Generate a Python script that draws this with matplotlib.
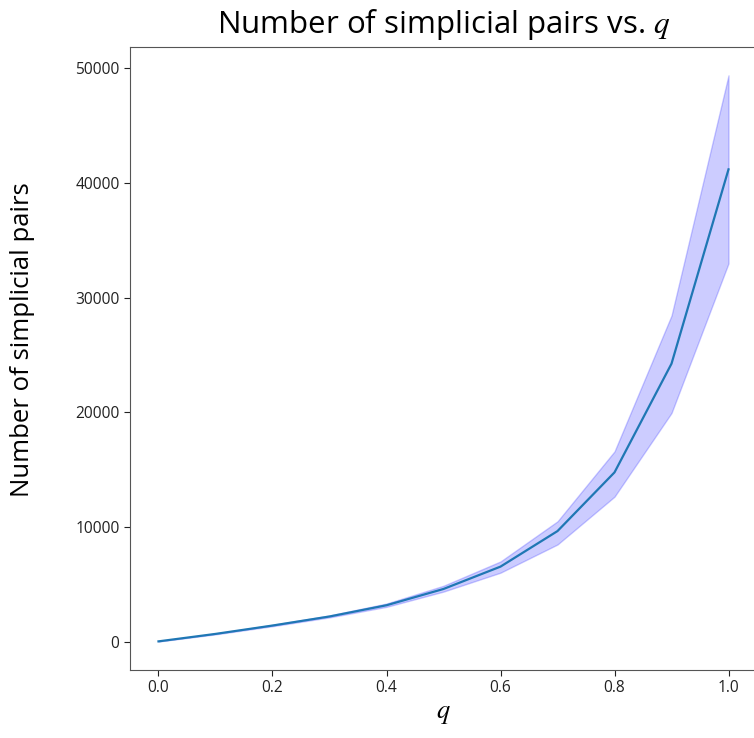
import numpy as np
import matplotlib
matplotlib.use("Agg")
import matplotlib.pyplot as plt

plt.rcParams['font.family'] = ['Open Sans', 'DejaVu Sans']
plt.rcParams['mathtext.fontset'] = 'stix'

q = [0.0, 0.1, 0.2, 0.3, 0.4, 0.5, 0.6, 0.7, 0.8, 0.9, 1.0]
mean_pairs = [30, 680, 1410, 2200, 3180, 4600, 6550, 9650, 14770, 24250, 41200]
lower_pairs = [20, 640, 1350, 2120, 3040, 4370, 6020, 8480, 12650, 19950, 33000]
upper_pairs = [40, 720, 1470, 2290, 3330, 4880, 7000, 10500, 16600, 28450, 49400]
x_ticks = [0.0, 0.2, 0.4, 0.6, 0.8, 1.0]
y_ticks = [0, 10000, 20000, 30000, 40000, 50000]

fig = plt.figure(figsize=(7.54, 7.38), dpi=100)
ax = fig.add_axes([0.1724, 0.0921, 0.8316, 0.8442])

ax.fill_between(q, lower_pairs, upper_pairs, color='blue', alpha=0.2, linewidth=1)
ax.plot(q, mean_pairs, color='#1f77b4', linewidth=1.6)

ax.set_xlim(-0.05, 1.05)
ax.set_ylim(-2470, 51870)
ax.set_xticks(x_ticks)
ax.set_xticklabels([f"{t:.1f}" for t in x_ticks])
ax.set_yticks(y_ticks)
ax.set_yticklabels([str(t) for t in y_ticks])
ax.tick_params(labelsize=11.2, colors='#222222', length=4)
for s in ax.spines.values():
    s.set_color('#555555')

ax.set_title(r"Number of simplicial pairs vs. $q$", fontsize=22.5, pad=10)
ax.set_xlabel(r"$q$", fontsize=19, labelpad=3)
ax.set_ylabel("Number of simplicial pairs", fontsize=18.5)
ax.yaxis.set_label_coords(-0.152, 0.53)

fig.savefig("out.png", dpi=100)
